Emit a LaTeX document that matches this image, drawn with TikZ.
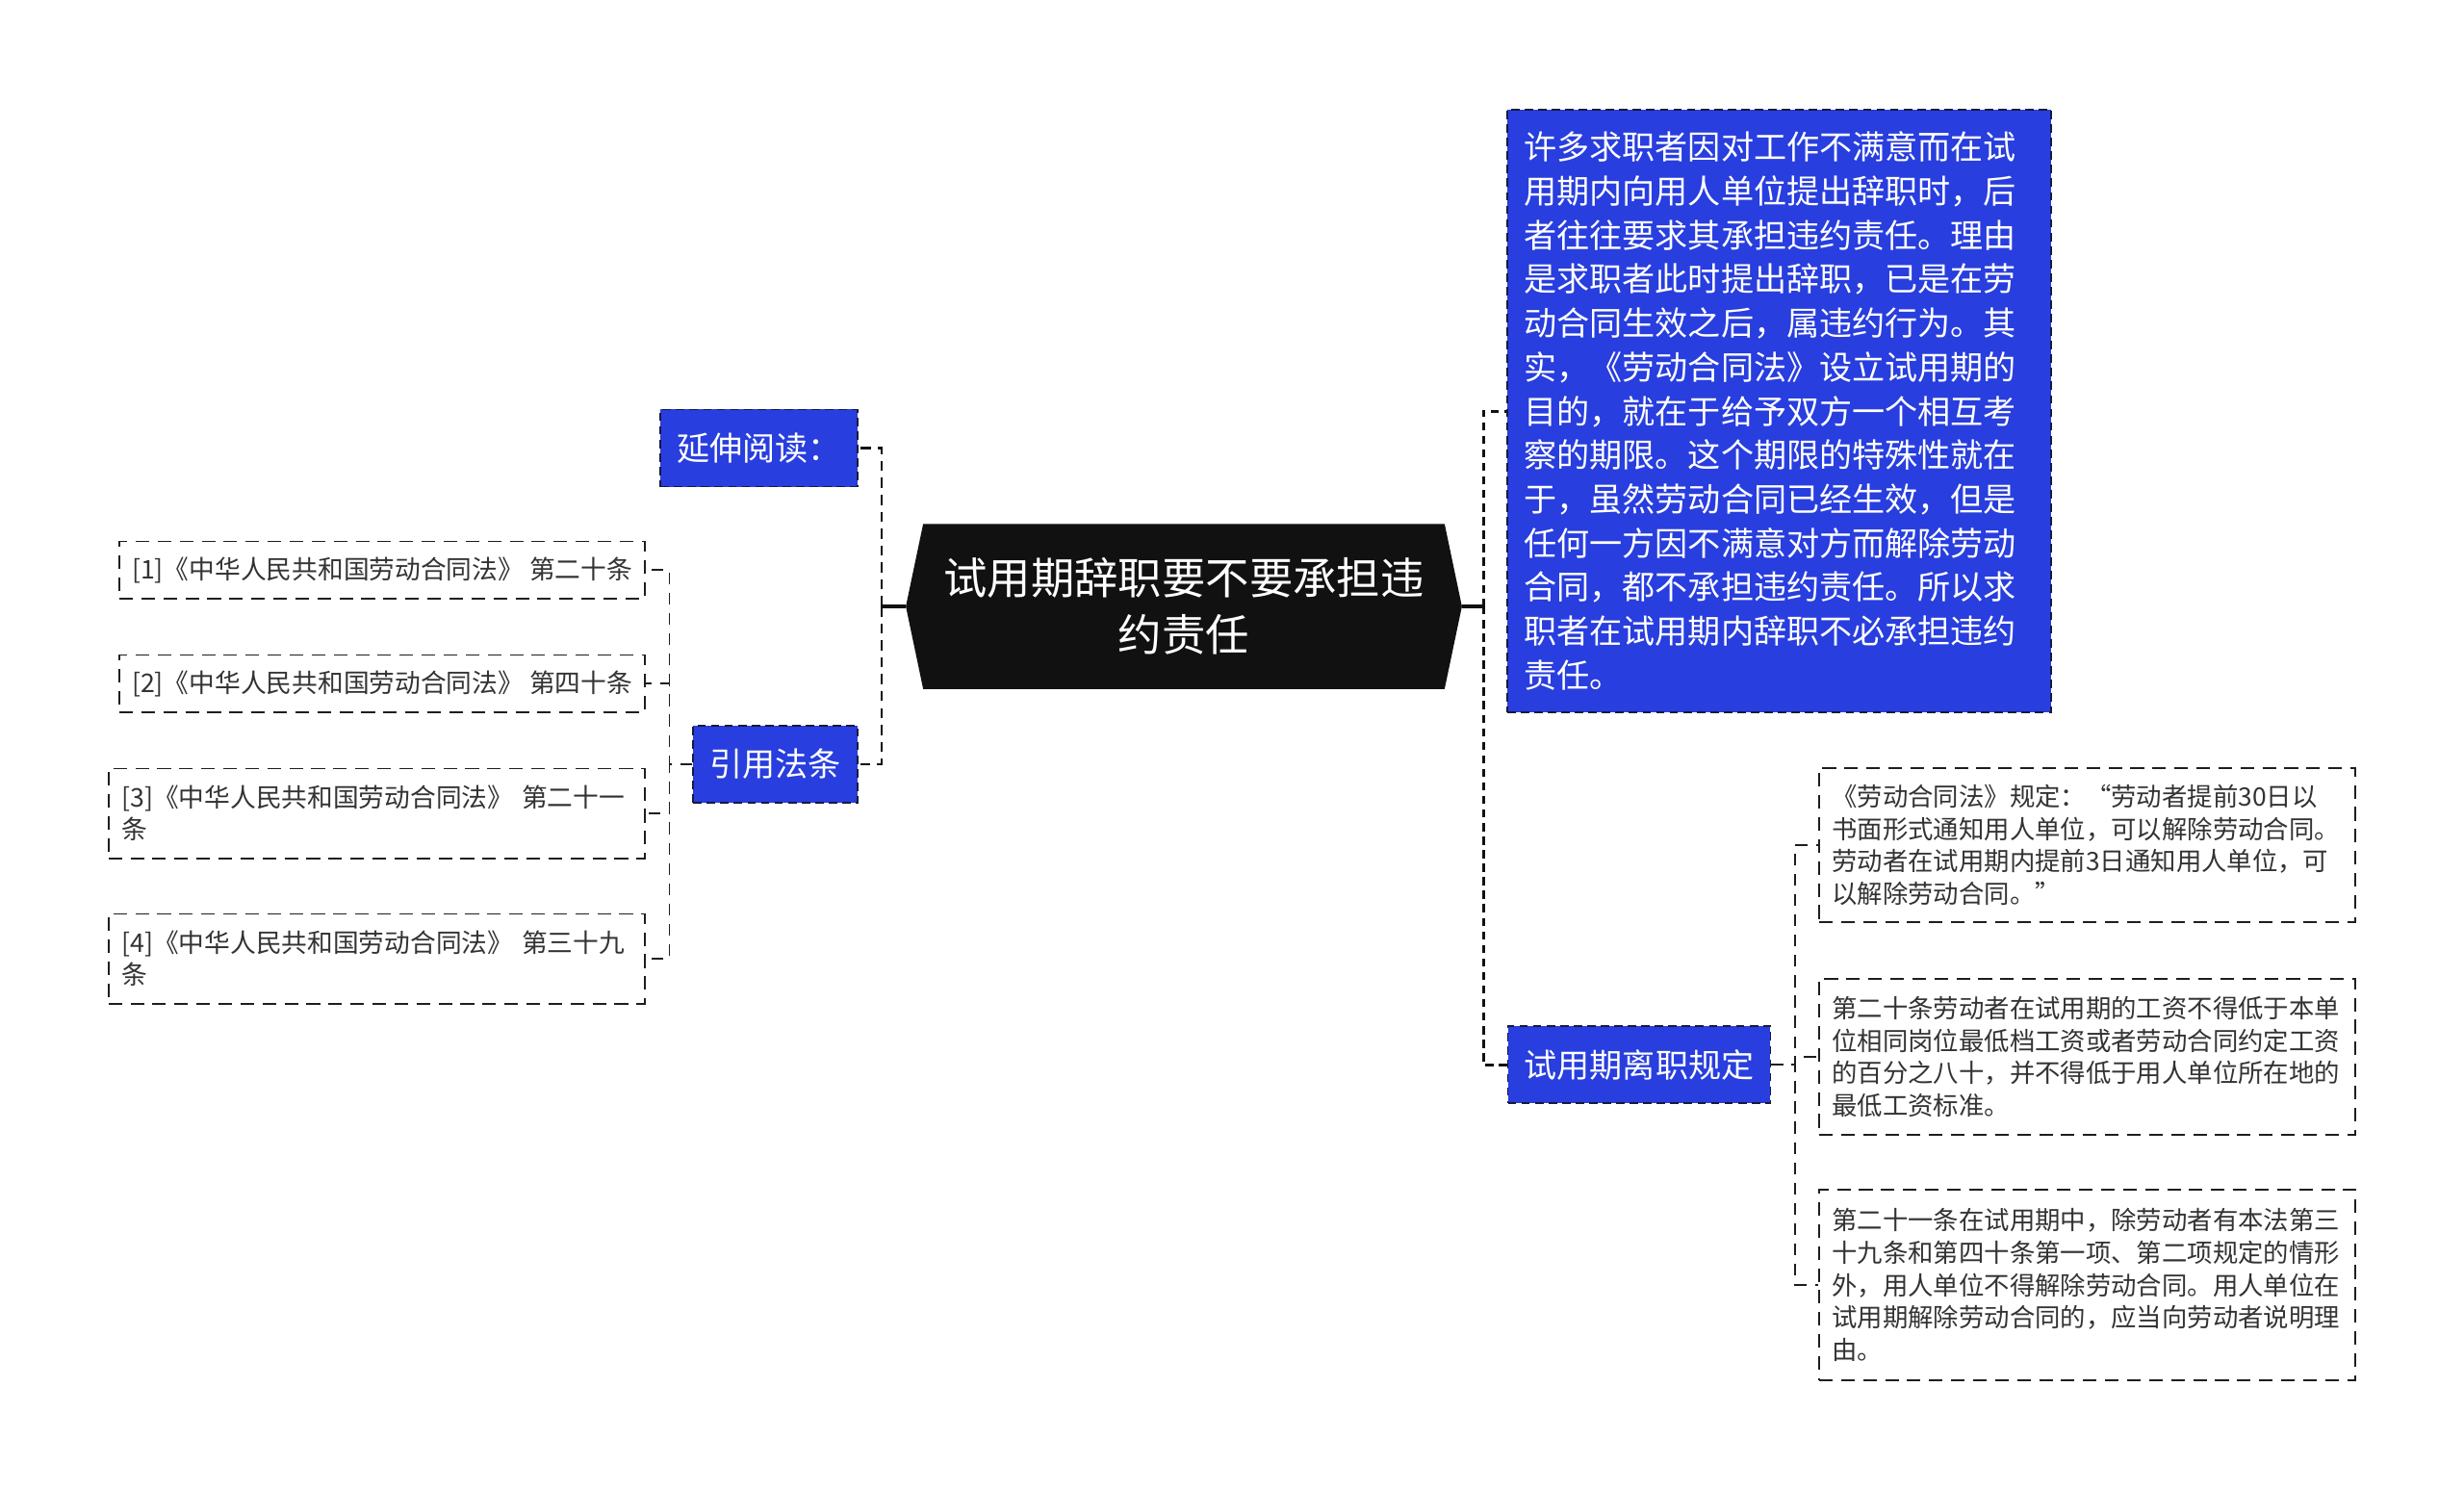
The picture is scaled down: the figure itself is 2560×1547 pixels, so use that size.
\documentclass[tikz,border=0pt]{standalone}
\usepackage{fontspec}
\usepackage{xcolor}
\usepackage{tikz}
\usetikzlibrary{positioning, calc, backgrounds}
\newfontfamily\cjkfont{Noto Sans CJK SC}
\definecolor{nodeblue}{RGB}{40, 62, 222}
\definecolor{rootblack}{RGB}{17, 17, 17}
\definecolor{borderdark}{RGB}{25, 25, 60}
\definecolor{leafgray}{RGB}{30, 30, 30}
\tikzset{
    bluenode/.style={
        draw=borderdark, dash pattern=on 2.5pt off 1.5pt, line width=0.5pt, fill=nodeblue, text=white,
        font=\cjkfont\fontsize{9.7}{13}\selectfont, inner xsep=0.17cm, minimum height=0.8cm
    },
    leafbox/.style={
        draw=leafgray, dash pattern=on 4pt off 2.5pt, line width=0.55pt, fill=white, text=black!80,
        align=left, inner xsep=0.13cm
    },
    rootline/.style={
        line width=0.9pt, rootblack
    },
    trunkline/.style={
        line width=0.85pt, dash pattern=on 2.4pt off 1.6pt, rootblack
    },
    branchline/.style={
        line width=0.6pt, dash pattern=on 3pt off 2pt, rootblack
    },
    leafline/.style={
        line width=0.5pt, dash pattern=on 3.5pt off 2.5pt, leafgray
    }
}
\begin{document}
\begin{tikzpicture}[
        x=0.01cm, y=-0.01cm,
        % --- STYLE ---
        rootnode/.style={
            text=white, font=\cjkfont\fontsize{12.9}{16.8}\selectfont, align=center,
            minimum width=5.76cm, minimum height=1.7cm, inner sep=0pt
        },
        rleaf/.style={
            leafbox, font=\cjkfont\fontsize{7.5}{9.6}\selectfont, text width=5.3cm, minimum width=5.57cm, anchor=west
        },
        lleaf/.style={
            leafbox, font=\cjkfont\fontsize{7.6}{9.4}\selectfont, anchor=east
        }
    ]
        \useasboundingbox (0,0) rectangle (2560,1547);

        % --- 1. NÚT GỐC ---
        \node[rootnode] (nroot) at (1230,630) {试用期辞职要不要承担违\\约责任};

        % --- 2. NHÁNH PHẢI ---
        \node[bluenode, text width=5.3cm, align=left, minimum width=5.65cm, minimum height=6.26cm] (ntext) at (1848.5,427) {
            许多求职者因对工作不满意而在试\\
            用期内向用人单位提出辞职时，后\\
            者往往要求其承担违约责任。理由\\
            是求职者此时提出辞职，已是在劳\\
            动合同生效之后，属违约行为。其\\
            实，《劳动合同法》设立试用期的\\
            目的，就在于给予双方一个相互考\\
            察的期限。这个期限的特殊性就在\\
            于，虽然劳动合同已经生效，但是\\
            任何一方因不满意对方而解除劳动\\
            合同，都不承担违约责任。所以求\\
            职者在试用期内辞职不必承担违约\\
            责任。
        };
        \node[bluenode] (nrule) at (1703,1106) {试用期离职规定};

        \node[rleaf, minimum height=1.6cm] (nart1) at (1889,878) {
            《劳动合同法》规定：“劳动者提前30日以\\
            书面形式通知用人单位，可以解除劳动合同。\\
            劳动者在试用期内提前3日通知用人单位，可\\
            以解除劳动合同。”
        };
        \node[rleaf, minimum height=1.62cm] (nart2) at (1889,1098) {
            第二十条劳动者在试用期的工资不得低于本单\\
            位相同岗位最低档工资或者劳动合同约定工资\\
            的百分之八十，并不得低于用人单位所在地的\\
            最低工资标准。
        };
        \node[rleaf, minimum height=1.98cm] (nart3) at (1889,1335) {
            第二十一条在试用期中，除劳动者有本法第三\\
            十九条和第四十条第一项、第二项规定的情形\\
            外，用人单位不得解除劳动合同。用人单位在\\
            试用期解除劳动合同的，应当向劳动者说明理\\
            由。
        };

        % --- 3. NHÁNH TRÁI ---
        \node[bluenode] (nread) at (788.5,465.5) {延伸阅读：};
        \node[bluenode] (ncite) at (805.5,794) {引用法条};

        \node[lleaf, minimum width=5.45cm, minimum height=0.59cm] (nlaw1) at (671,592) {[1]《中华人民共和国劳动合同法》 第二十条};
        \node[lleaf, minimum width=5.45cm, minimum height=0.59cm] (nlaw2) at (671,710) {[2]《中华人民共和国劳动合同法》 第四十条};
        \node[lleaf, text width=5.3cm, minimum width=5.57cm, minimum height=0.93cm] (nlaw3) at (671,845) {[3]《中华人民共和国劳动合同法》 第二十一\\条};
        \node[lleaf, text width=5.3cm, minimum width=5.57cm, minimum height=0.93cm] (nlaw4) at (671,996) {[4]《中华人民共和国劳动合同法》 第三十九\\条};

        % --- 4. HÌNH LỤC GIÁC ---
        \begin{scope}[on background layer]
            \fill[white] (0,0) rectangle (2560,1547);
            \fill[rootblack] ($(nroot.north west)+(18,0)$) -- ($(nroot.north east)+(-18,0)$) -- (nroot.east)
                -- ($(nroot.south east)+(-18,0)$) -- ($(nroot.south west)+(18,0)$) -- (nroot.west) -- cycle;
        \end{scope}

        % --- 5. ĐƯỜNG NỐI ---
        \coordinate (rtrunk) at (1541,630);
        \coordinate (ltrunk) at (916,630);
        \draw[rootline] (nroot.east) -- (rtrunk);
        \draw[trunkline] (rtrunk) |- (ntext.west);
        \draw[trunkline] (rtrunk) |- (nrule.west);

        \draw[rootline] (nroot.west) -- (ltrunk);
        \draw[branchline] (ltrunk) |- (nread.east);
        \draw[branchline] (ltrunk) |- (ncite.east);

        \draw[leafline] (nrule.east) -- ++(25,0) |- (nart1.west);
        \draw[leafline] (nrule.east) -- ++(25,0) |- (nart2.west);
        \draw[leafline] (nrule.east) -- ++(25,0) |- (nart3.west);

        \draw[leafline] (ncite.west) -- ++(-24,0) |- (nlaw1.east);
        \draw[leafline] (ncite.west) -- ++(-24,0) |- (nlaw2.east);
        \draw[leafline] (ncite.west) -- ++(-24,0) |- (nlaw3.east);
        \draw[leafline] (ncite.west) -- ++(-24,0) |- (nlaw4.east);

    \end{tikzpicture}
\end{document}
